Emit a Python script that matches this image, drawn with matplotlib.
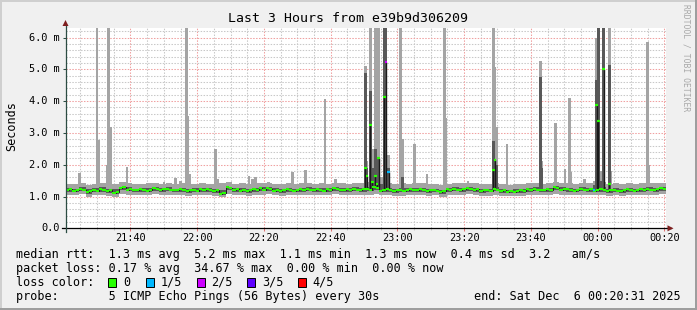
import numpy as np
import matplotlib
matplotlib.use("Agg")
import matplotlib.pyplot as plt
from matplotlib.patches import Rectangle, Polygon

# ---------------- data ----------------
title = "Last 3 Hours from e39b9d306209"
y_label = "Seconds"
credit = "RRDTOOL / TOBI OETIKER"
t_start = 20.52   # minutes after 21:00  (21:20:31)
t_end = 200.52    # 00:20:31
xtick_minutes = [40, 60, 80, 100, 120, 140, 160, 180, 200]
xtick_labels = ["21:40", "22:00", "22:20", "22:40", "23:00", "23:20", "23:40", "00:00", "00:20"]
ytick_values = [0, 1, 2, 3, 4, 5, 6]
ytick_labels = ["0.0", "1.0 m", "2.0 m", "3.0 m", "4.0 m", "5.0 m", "6.0 m"]
y_max = 6.3

# median rtt, one value per minute (ms)
med_step = 1.0
median_rtt = [1.22, 1.24, 1.18, 1.21, 1.25, 1.22, 1.14, 1.17, 1.21, 1.18, 1.24, 1.20, 1.17, 1.20, 1.10,
              1.14, 1.27, 1.30, 1.22, 1.25, 1.19, 1.22, 1.24, 1.20, 1.18, 1.22, 1.27, 1.24, 1.20, 1.23,
              1.25, 1.22, 1.19, 1.22, 1.23, 1.20, 1.16, 1.19, 1.22, 1.18, 1.24, 1.20, 1.23, 1.20, 1.17,
              1.20, 1.08, 1.12, 1.30, 1.26, 1.20, 1.23, 1.18, 1.21, 1.16, 1.20, 1.23, 1.20, 1.26, 1.22,
              1.28, 1.24, 1.18, 1.22, 1.17, 1.19, 1.23, 1.20, 1.18, 1.22, 1.24, 1.20, 1.25, 1.22, 1.20,
              1.23, 1.21, 1.18, 1.23, 1.20, 1.26, 1.23, 1.19, 1.21, 1.23, 1.20, 1.25, 1.22, 1.20, 1.24,
              1.25, 1.22, 1.30, 1.26, 1.18, 1.21, 1.24, 1.20, 1.16, 1.19, 1.22, 1.18, 1.20, 1.24, 1.19,
              1.21, 1.23, 1.20, 1.16, 1.19, 1.21, 1.18, 1.13, 1.16, 1.24, 1.20, 1.25, 1.22, 1.20, 1.24,
              1.28, 1.24, 1.20, 1.23, 1.17, 1.19, 1.22, 1.18, 1.25, 1.22, 1.17, 1.19, 1.15, 1.17, 1.14,
              1.17, 1.19, 1.16, 1.23, 1.20, 1.25, 1.22, 1.19, 1.21, 1.23, 1.20, 1.29, 1.26, 1.22, 1.25,
              1.24, 1.20, 1.18, 1.22, 1.25, 1.22, 1.20, 1.23, 1.18, 1.21, 1.23, 1.20, 1.17, 1.19, 1.21,
              1.18, 1.16, 1.19, 1.23, 1.20, 1.18, 1.21, 1.23, 1.20, 1.25, 1.22, 1.20, 1.23, 1.27, 1.24]

# smoke envelope, one value per two minutes (ms)
base_step = 2.0
base_max = [1.40, 1.38, 1.42, 1.36, 1.40, 1.44, 1.38, 1.40, 1.46, 1.42, 1.40, 1.38, 1.42, 1.44, 1.40,
            1.42, 1.40, 1.44, 1.38, 1.40, 1.42, 1.40, 1.38, 1.42, 1.46, 1.40, 1.42, 1.38, 1.44, 1.42,
            1.44, 1.40, 1.38, 1.42, 1.40, 1.42, 1.44, 1.40, 1.42, 1.40, 1.44, 1.42, 1.40, 1.44, 1.42,
            1.46, 1.48, 1.44, 1.42, 1.40, 1.42, 1.40, 1.42, 1.44, 1.40, 1.38, 1.36, 1.40, 1.44, 1.42,
            1.44, 1.42, 1.40, 1.38, 1.42, 1.40, 1.36, 1.38, 1.40, 1.42, 1.44, 1.40, 1.42, 1.46, 1.44,
            1.42, 1.40, 1.44, 1.42, 1.44, 1.46, 1.40, 1.42, 1.40, 1.44, 1.40, 1.42, 1.44, 1.42, 1.44]
base_p4 = [1.27, 1.25, 1.29, 1.23, 1.27, 1.29, 1.25, 1.23, 1.31, 1.29, 1.25, 1.27, 1.27, 1.30, 1.27,
           1.29, 1.25, 1.27, 1.24, 1.26, 1.28, 1.27, 1.24, 1.21, 1.31, 1.27, 1.26, 1.24, 1.27, 1.29,
           1.30, 1.26, 1.24, 1.27, 1.25, 1.27, 1.29, 1.27, 1.26, 1.27, 1.29, 1.26, 1.27, 1.29, 1.27,
           1.30, 1.33, 1.27, 1.27, 1.24, 1.26, 1.27, 1.26, 1.27, 1.24, 1.25, 1.22, 1.27, 1.29, 1.27,
           1.30, 1.27, 1.24, 1.25, 1.29, 1.24, 1.22, 1.23, 1.24, 1.27, 1.29, 1.25, 1.27, 1.32, 1.29,
           1.27, 1.25, 1.29, 1.27, 1.27, 1.29, 1.24, 1.26, 1.24, 1.27, 1.25, 1.27, 1.29, 1.27, 1.30]
base_p2 = [1.15, 1.13, 1.17, 1.09, 1.13, 1.15, 1.12, 1.07, 1.19, 1.16, 1.13, 1.15, 1.13, 1.18, 1.15,
           1.16, 1.13, 1.15, 1.11, 1.13, 1.15, 1.15, 1.11, 1.05, 1.19, 1.15, 1.13, 1.11, 1.15, 1.16,
           1.18, 1.13, 1.11, 1.15, 1.13, 1.15, 1.16, 1.15, 1.13, 1.15, 1.17, 1.13, 1.15, 1.16, 1.15,
           1.16, 1.19, 1.13, 1.15, 1.11, 1.13, 1.15, 1.13, 1.15, 1.11, 1.13, 1.09, 1.15, 1.16, 1.15,
           1.18, 1.15, 1.11, 1.13, 1.16, 1.11, 1.10, 1.10, 1.11, 1.15, 1.16, 1.13, 1.15, 1.19, 1.16,
           1.15, 1.13, 1.16, 1.15, 1.13, 1.15, 1.11, 1.13, 1.11, 1.15, 1.13, 1.15, 1.16, 1.15, 1.18]
base_min = [1.06, 1.04, 1.07, 1.00, 1.04, 1.06, 1.02, 0.98, 1.08, 1.06, 1.04, 1.05, 1.04, 1.08, 1.05,
            1.06, 1.04, 1.05, 1.02, 1.04, 1.05, 1.06, 1.02, 0.97, 1.08, 1.05, 1.04, 1.02, 1.05, 1.06,
            1.08, 1.04, 1.02, 1.05, 1.04, 1.05, 1.06, 1.05, 1.04, 1.05, 1.07, 1.04, 1.05, 1.06, 1.05,
            1.06, 1.08, 1.04, 1.05, 1.02, 1.03, 1.05, 1.04, 1.05, 1.02, 1.04, 1.00, 1.05, 1.06, 1.05,
            1.07, 1.05, 1.02, 1.03, 1.06, 1.02, 1.01, 1.01, 1.02, 1.05, 1.06, 1.04, 1.05, 1.08, 1.06,
            1.05, 1.04, 1.06, 1.05, 1.04, 1.05, 1.02, 1.04, 1.02, 1.05, 1.04, 1.05, 1.06, 1.05, 1.08]

# latency spikes (30 s samples): max ping, 4th ping, median, loss level
N = float("nan")
spike_t = [24.8, 30.0, 30.6, 33.0, 33.5, 34.0, 39.0, 50.0, 53.5, 55.0,
           56.7, 57.2, 57.8, 65.5, 66.0, 69.5, 75.5, 76.6, 77.5, 81.4,
           88.6, 92.4, 98.3, 101.5, 110.4, 110.9, 111.9, 112.5, 113.4, 113.9,
           114.4, 115.2, 116.1, 116.6, 117.4, 121.0, 121.5, 125.1, 128.9, 134.1,
           134.5, 141.2, 148.8, 149.3, 149.8, 152.9, 162.9, 163.3, 167.4, 170.2,
           171.6, 172.0, 176.0, 178.9, 179.7, 180.2, 180.8, 181.8, 183.5, 184.0,
           194.9, 195.3]
spike_max = [1.75, 6.5, 2.78, 2.0, 6.5, 3.2, 1.94, 1.45, 1.58, 1.48,
             6.5, 3.54, 1.70, 2.49, 1.55, 1.45, 1.64, 1.56, 1.60, 1.45,
             1.76, 1.84, 4.07, 1.55, 5.1, 2.12, 6.5, 2.5, 6.5, 6.5,
             6.5, 1.6, 6.5, 6.5, 2.3, 6.5, 2.81, 2.65, 1.71, 6.5,
             3.46, 1.48, 6.5, 5.08, 3.2, 2.65, 5.27, 2.12, 3.32, 1.87,
             4.11, 1.76, 1.56, 1.5, 6.0, 6.5, 1.8, 6.5, 6.5, 1.8,
             5.85, 2.0]
spike_p4 = [N, N, N, N, N, N, N, N, N, N,
            N, N, N, N, N, N, N, N, N, N,
            N, N, N, N, 4.9, 1.9, 4.33, 1.9, 2.5, 2.0,
            2.2, 1.4, 6.5, 6.5, 1.9, N, 1.6, N, N, N,
            N, N, 2.75, 2.15, 2.0, N, 4.77, 1.9, N, N,
            N, N, N, 1.35, 4.66, 6.5, 1.5, 6.5, 5.13, N,
            N, N]
spike_med = [N, N, N, N, N, N, N, N, N, N,
             N, N, N, N, N, N, N, N, N, N,
             N, N, N, N, 1.9, 1.65, 3.25, 1.45, 1.65, 1.4,
             2.2, N, 4.14, 5.24, 1.78, N, N, N, N, N,
             N, N, 1.83, 2.15, N, N, N, N, N, N,
             N, N, N, 1.2, 3.88, 3.38, N, 5.0, 1.4, N,
             N, N]
spike_loss = [0, 0, 0, 0, 0, 0, 0, 0, 0, 0,
              0, 0, 0, 0, 0, 0, 0, 0, 0, 0,
              0, 0, 0, 0, 0, 0, 0, 0, 0, 0,
              0, 0, 0, 2, 1, 0, 0, 0, 0, 0,
              0, 0, 0, 0, 0, 0, 0, 0, 0, 0,
              0, 0, 0, 1, 0, 0, 0, 0, 0, 0,
              0, 0]

loss_labels = ["0", "1/5", "2/5", "3/5", "4/5"]
loss_colors = ["#26ff00", "#00b8ff", "#cc00ff", "#5e00ff", "#ff0000"]

legend_rows = [
    "median rtt:  1.3 ms avg  5.2 ms max  1.1 ms min  1.3 ms now  0.4 ms sd  3.2   am/s",
    "packet loss: 0.17 % avg  34.67 % max  0.00 % min  0.00 % now",
    "loss color:",
    "probe:       5 ICMP Echo Pings (56 Bytes) every 30s",
]
end_text = "end: Sat Dec  6 00:20:31 2025"

# ---------------- style ----------------
W, H = 697, 310
BACK = "#f0f0f0"
SHADEA = "#cfcfcf"
SHADEB = "#9e9e9e"
GRID = "#c8c8c8"
MGRID = "#f0a0a0"
ARROW = "#7f1f1f"
AXIS = "#2c4d43"
SMOKE1 = "#a4a4a4"
SMOKE2 = "#585858"
MONO = "DejaVu Sans Mono"

fig = plt.figure(figsize=(W / 100, H / 100), dpi=100, facecolor=BACK)

def fx(px):
    return px / W

def fy(py):
    return 1 - py / H

# 3D frame
fig.patches.append(Rectangle((0, fy(2)), 1, 2 / H, transform=fig.transFigure, fc=SHADEA, ec="none", zorder=-5))
fig.patches.append(Rectangle((0, 0), 2 / W, 1, transform=fig.transFigure, fc=SHADEA, ec="none", zorder=-5))
fig.patches.append(Rectangle((0, 0), 1, 2 / H, transform=fig.transFigure, fc=SHADEB, ec="none", zorder=-4))
fig.patches.append(Rectangle((fx(W - 2), 0), 2 / W, 1, transform=fig.transFigure, fc=SHADEB, ec="none", zorder=-4))

ax_left, ax_right, ax_top, ax_bottom = 65.5, 666.0, 28.0, 228.3
ax = fig.add_axes([fx(ax_left), fy(ax_bottom), (ax_right - ax_left) / W, (ax_bottom - ax_top) / H])
ax.set_facecolor("white")
ax.set_xlim(t_start, t_end)
ax.set_ylim(0, y_max)
for s in ax.spines.values():
    s.set_visible(False)
ax.set_xticks([])
ax.set_yticks([])

# grid
dash = (0, (1.4, 1.4))
minor_x = np.arange(25, 201, 5)
minor_y = np.arange(0.2, 6.3, 0.2)
ax.vlines([m for m in minor_x if m % 20 != 0], 0, y_max, colors=GRID, lw=0.75, linestyles=dash, zorder=1)
ax.hlines([v for v in minor_y if abs(v - round(v)) > 0.05], t_start, t_end, colors=GRID, lw=0.75, linestyles=dash, zorder=1)
ax.vlines(xtick_minutes, 0, y_max, colors=MGRID, lw=0.75, linestyles=dash, zorder=1.1)
ax.hlines(ytick_values[1:], t_start, t_end, colors=MGRID, lw=0.75, linestyles=dash, zorder=1.1)

def ext(a):
    a = np.asarray(a, float)
    return np.append(a, a[-1])

bt = t_start + base_step * np.arange(len(base_max))
b_edges = np.append(bt, t_end)
mt = t_start + med_step * np.arange(len(median_rtt))
m_edges = np.append(mt, t_end)
med_arr = np.asarray(median_rtt)

st = np.asarray(spike_t)
smax = np.asarray(spike_max)
sp4 = np.asarray(spike_p4)
smed = np.asarray(spike_med)
bidx = np.clip(((st - t_start) // base_step).astype(int), 0, len(base_max) - 1)
midx = np.clip(((st - t_start) // med_step).astype(int), 0, len(median_rtt) - 1)
bw = 0.8

bmin = np.asarray(base_min)
bp2 = np.asarray(base_p2)
ax.bar(st, smax - bmin[bidx], bottom=bmin[bidx], width=bw, color=SMOKE1, lw=0, zorder=2)
ax.fill_between(b_edges, ext(base_min), ext(base_max), step="post", color=SMOKE1, lw=0, zorder=2.1)
ax.fill_between(b_edges, ext(base_p2), ext(base_p4), step="post", color=SMOKE2, lw=0, zorder=3)
has_p4 = ~np.isnan(sp4)
ax.bar(st[has_p4], sp4[has_p4] - bp2[bidx][has_p4], bottom=bp2[bidx][has_p4],
       width=bw, color=SMOKE2, lw=0, zorder=3.1)

# median
ax.step(m_edges, ext(median_rtt), where="post", color="#1a1a1a", lw=0.7, zorder=4)
ax.hlines(median_rtt, mt, mt + med_step, colors=loss_colors[0], lw=1.5, zorder=5)
has_med = ~np.isnan(smed)
ax.vlines(st[has_med], med_arr[midx][has_med], smed[has_med], colors="#1a1a1a", lw=1.0, zorder=4.5)
ax.hlines(smed[has_med], st[has_med] - bw / 2, st[has_med] + bw / 2,
          colors=[loss_colors[l] for l in np.asarray(spike_loss)[has_med]], lw=1.6, zorder=5.5)

# axes lines with arrows
ax.plot([-4 / 600.5, 1 + 5 / 600.5], [0, 0], transform=ax.transAxes, color="black", lw=0.9, clip_on=False, zorder=6)
ax.plot([0, 0], [-4 / 200.3, 1 + 4 / 200.3], transform=ax.transAxes, color=AXIS, lw=0.9, clip_on=False, zorder=6)
fig.patches.append(Polygon([[fx(667.5), fy(225.3)], [fx(673.5), fy(228.3)], [fx(667.5), fy(231.3)]],
                           closed=True, transform=fig.transFigure, fc=ARROW, ec="none", zorder=7))
fig.patches.append(Polygon([[fx(62.5), fy(26)], [fx(65.5), fy(20)], [fx(68.5), fy(26)]],
                           closed=True, transform=fig.transFigure, fc=ARROW, ec="none", zorder=7))

# ticks
xt = ax.get_xaxis_transform()
ax.vlines([m for m in minor_x if m % 20 != 0], -2 / 200.3, 0, transform=xt, colors=GRID, lw=0.75, clip_on=False)
ax.vlines(xtick_minutes, -3 / 200.3, 0, transform=xt, colors="#e07070", lw=0.75, clip_on=False)
yt = ax.get_yaxis_transform()
ax.hlines(ytick_values, -3 / 600.5, 0, transform=yt, colors=AXIS, lw=0.75, clip_on=False)

# tick labels
for m, lab in zip(xtick_minutes, xtick_labels):
    ax.text(m, -9.6 / 200.3, lab, transform=xt, ha="center", va="center", fontsize=7.4, family=MONO)
for v, lab in zip(ytick_values, ytick_labels):
    ax.text(-5.5 / 600.5, v, lab, transform=yt, ha="right", va="center", fontsize=7.4, family=MONO)

# titles
fig.text(fx(348), fy(19), title, ha="center", va="center", fontsize=9.5, family=MONO)
fig.text(fx(12), fy(126), y_label, ha="center", va="center", rotation=90, fontsize=8.5, family=MONO)
fig.text(fx(686), fy(58), credit, ha="center", va="center", rotation=270, fontsize=5.8, family=MONO, color="#a8a8a8")

# legend
row_y = [254.3, 268.3, 282.3, 296.2]
for txt, yy in zip(legend_rows, row_y):
    fig.text(fx(15.5), fy(yy), txt, ha="left", va="center", fontsize=8.5, family=MONO)
fig.text(fx(680.5), fy(row_y[3]), end_text, ha="right", va="center", fontsize=8.5, family=MONO)
box_x = [108.3, 146.0, 196.7, 247.3, 297.7]
for bx, col, lab in zip(box_x, loss_colors, loss_labels):
    fig.patches.append(Rectangle((fx(bx), fy(row_y[2] + 4.5)), 8 / W, 9 / H, transform=fig.transFigure,
                                 fc=col, ec="black", lw=0.7, zorder=5))
    fig.text(fx(bx + 14.5), fy(row_y[2]), lab, ha="left", va="center", fontsize=8.5, family=MONO)

fig.savefig("out.png", dpi=100, facecolor=BACK)
